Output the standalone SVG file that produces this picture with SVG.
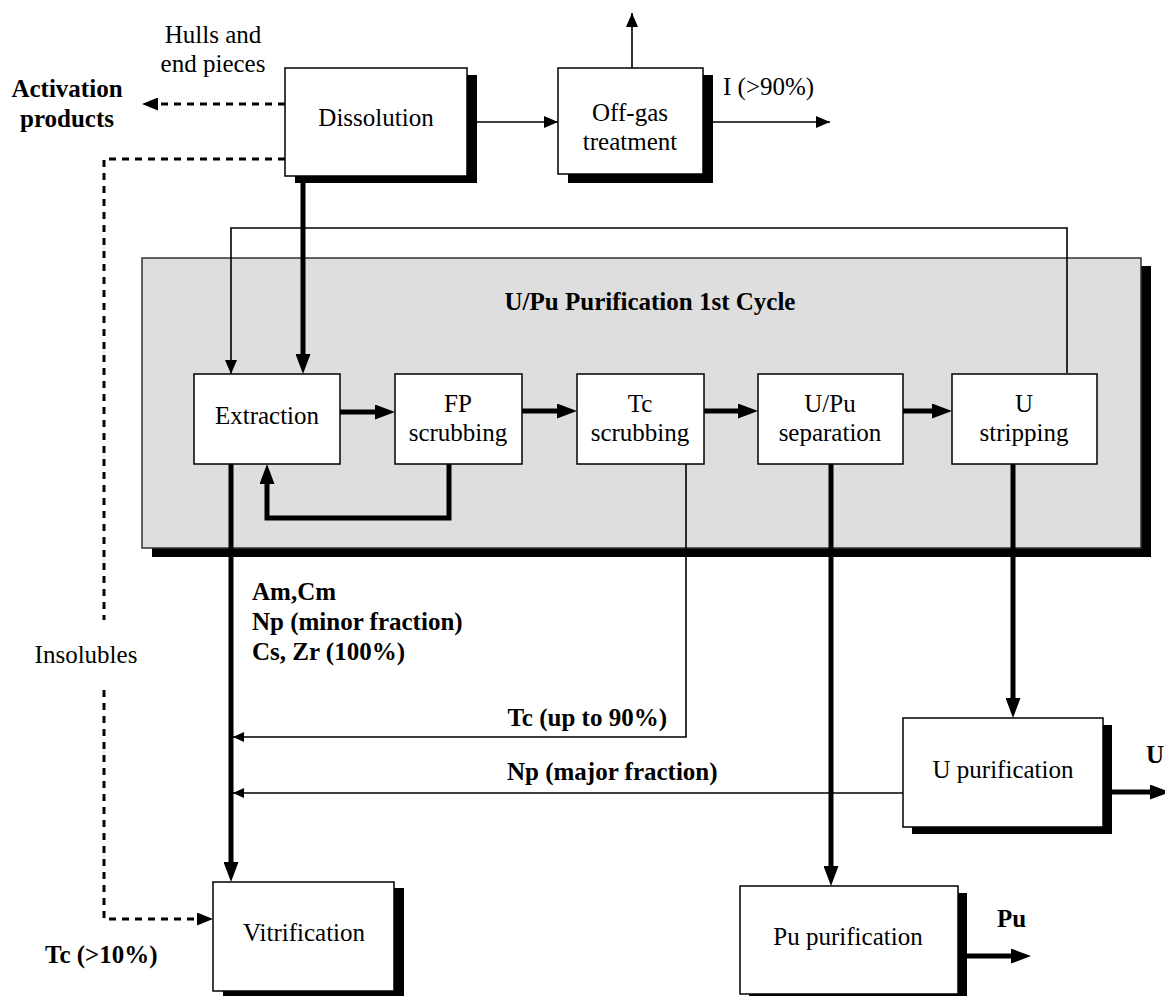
<svg xmlns="http://www.w3.org/2000/svg" width="1165" height="996" viewBox="0 0 1165 996">
  <style>
    text { font-family: "Liberation Serif", "Times New Roman", serif; font-size: 25px; fill: #000; }
    .b { font-weight: bold; }
    .box { fill: #fff; stroke: #000; stroke-width: 1.5; }
    .shadow { fill: #000; stroke: none; }
    .thin { fill: none; stroke: #000; stroke-width: 1.6; }
    .thick { fill: none; stroke: #000; stroke-width: 5; }
    .dash { fill: none; stroke: #000; stroke-width: 3; stroke-dasharray: 7 6; }
  </style>
  <defs>
    <!-- thin flow arrowhead, tip at the path end -->
    <marker id="aThin" markerUnits="userSpaceOnUse" viewBox="0 0 14 12" refX="14" refY="6" markerWidth="14" markerHeight="12" orient="auto">
      <path d="M0,0 L14,6 L0,12 z" fill="#000"/>
    </marker>
    <!-- small arrowhead for side streams joining the waste line -->
    <marker id="aSmall" markerUnits="userSpaceOnUse" viewBox="0 0 11 10" refX="11" refY="5" markerWidth="11" markerHeight="10" orient="auto">
      <path d="M0,0 L11,5 L0,10 z" fill="#000"/>
    </marker>
    <!-- thick main-stream arrowhead, tip 10px beyond the path end -->
    <marker id="aThick" markerUnits="userSpaceOnUse" viewBox="0 0 20 15" refX="10" refY="7.5" markerWidth="20" markerHeight="15" orient="auto">
      <path d="M0,0 L20,7.5 L0,15 z" fill="#000"/>
    </marker>
    <!-- arrowhead for dashed solid-waste streams -->
    <marker id="aDash" markerUnits="userSpaceOnUse" viewBox="0 0 16 13" refX="16" refY="6.5" markerWidth="16" markerHeight="13" orient="auto">
      <path d="M0,0 L16,6.5 L0,13 z" fill="#000"/>
    </marker>
  </defs>

  <rect width="1165" height="996" fill="#fff"/>

  <!-- first purification cycle enclosure -->
  <g id="cycle1">
    <rect class="shadow" x="152" y="266" width="999" height="291"/>
    <rect x="142" y="258" width="999" height="290" fill="#dedede" stroke="#333" stroke-width="1.5"/>
    <text class="b" x="650" y="310" text-anchor="middle">U/Pu Purification 1st Cycle</text>
  </g>

  <!-- connectors -->
  <g id="connectors">
    <!-- head end -->
    <line class="thin" x1="477" y1="122" x2="558" y2="122" marker-end="url(#aThin)"/>
    <line class="thin" x1="632" y1="68" x2="632" y2="13" marker-end="url(#aThin)"/>
    <line class="thin" x1="713" y1="122" x2="830" y2="122" marker-end="url(#aThin)"/>
    <line class="dash" x1="285" y1="104" x2="142" y2="104" marker-end="url(#aDash)"/>
    <path class="dash" d="M285,159 H104 V620"/>
    <path class="dash" d="M104,690 V919 H213" marker-end="url(#aDash)"/>
    <line class="thick" x1="303" y1="176" x2="303" y2="364" marker-end="url(#aThick)"/>

    <!-- solvent recycle from U stripping back to extraction -->
    <path class="thin" d="M1067,373 V228 H231 V374" marker-end="url(#aThin)"/>

    <!-- main stream through the cycle -->
    <line class="thick" x1="340" y1="412" x2="385" y2="412" marker-end="url(#aThick)"/>
    <line class="thick" x1="522" y1="411" x2="567" y2="411" marker-end="url(#aThick)"/>
    <line class="thick" x1="704" y1="411" x2="748" y2="411" marker-end="url(#aThick)"/>
    <line class="thick" x1="903" y1="411" x2="942" y2="411" marker-end="url(#aThick)"/>
    <path class="thick" d="M449,464 V518 H267 V474" marker-end="url(#aThick)"/>

    <!-- outlets -->
    <line class="thick" x1="231" y1="464" x2="231" y2="872" marker-end="url(#aThick)"/>
    <path class="thin" d="M686,464 V737 H233" marker-end="url(#aSmall)"/>
    <line class="thin" x1="903" y1="793" x2="233" y2="793" marker-end="url(#aSmall)"/>
    <line class="thick" x1="831" y1="464" x2="831" y2="876" marker-end="url(#aThick)"/>
    <line class="thick" x1="1013" y1="464" x2="1013" y2="708" marker-end="url(#aThick)"/>
    <line class="thick" x1="1112" y1="792" x2="1160" y2="792" marker-end="url(#aThick)"/>
    <line class="thick" x1="967" y1="956" x2="1021" y2="956" marker-end="url(#aThick)"/>
  </g>

  <!-- stream labels -->
  <g id="labels">
    <text x="213" y="43" text-anchor="middle">Hulls and</text>
    <text x="213" y="72" text-anchor="middle">end pieces</text>
    <text class="b" x="67" y="97" text-anchor="middle">Activation</text>
    <text class="b" x="67" y="127" text-anchor="middle">products</text>
    <text x="723" y="95">I (&gt;90%)</text>
    <text x="86" y="663" text-anchor="middle">Insolubles</text>
    <text class="b" x="252" y="600">Am,Cm</text>
    <text class="b" x="252" y="630">Np (minor fraction)</text>
    <text class="b" x="252" y="660">Cs, Zr (100%)</text>
    <text class="b" x="667" y="726" text-anchor="end">Tc (up to 90%)</text>
    <text class="b" x="507" y="780">Np (major fraction)</text>
    <text class="b" x="1146" y="763">U</text>
    <text class="b" x="997" y="927">Pu</text>
    <text class="b" x="45" y="963">Tc (&gt;10%)</text>
  </g>

  <g id="dissolution">
    <rect class="shadow" x="295" y="75" width="182" height="108"/>
    <rect class="box" x="285" y="68" width="182" height="108"/>
    <text x="376" y="126" text-anchor="middle">Dissolution</text>
  </g>

  <g id="offgas">
    <rect class="shadow" x="568" y="75" width="145" height="108"/>
    <rect class="box" x="558" y="68" width="145" height="106"/>
    <text x="630" y="121" text-anchor="middle">Off-gas</text>
    <text x="630" y="150" text-anchor="middle">treatment</text>
  </g>

  <g id="extraction">
    <rect class="box" x="194" y="374" width="146" height="90"/>
    <text x="267" y="424" text-anchor="middle">Extraction</text>
  </g>

  <g id="fp-scrubbing">
    <rect class="box" x="395" y="374" width="127" height="90"/>
    <text x="458" y="412" text-anchor="middle">FP</text>
    <text x="458" y="441" text-anchor="middle">scrubbing</text>
  </g>

  <g id="tc-scrubbing">
    <rect class="box" x="577" y="374" width="127" height="90"/>
    <text x="640" y="412" text-anchor="middle">Tc</text>
    <text x="640" y="441" text-anchor="middle">scrubbing</text>
  </g>

  <g id="upu-separation">
    <rect class="box" x="758" y="374" width="145" height="90"/>
    <text x="830" y="412" text-anchor="middle">U/Pu</text>
    <text x="830" y="441" text-anchor="middle">separation</text>
  </g>

  <g id="u-stripping">
    <rect class="box" x="952" y="374" width="145" height="90"/>
    <text x="1024" y="412" text-anchor="middle">U</text>
    <text x="1024" y="441" text-anchor="middle">stripping</text>
  </g>

  <g id="u-purification">
    <rect class="shadow" x="912" y="725" width="200" height="109"/>
    <rect class="box" x="903" y="718" width="200" height="109"/>
    <text x="1003" y="778" text-anchor="middle">U purification</text>
  </g>

  <g id="vitrification">
    <rect class="shadow" x="223" y="888" width="181" height="109"/>
    <rect class="box" x="213" y="882" width="181" height="109"/>
    <text x="304" y="941" text-anchor="middle">Vitrification</text>
  </g>

  <g id="pu-purification">
    <rect class="shadow" x="749" y="893" width="218" height="109"/>
    <rect class="box" x="740" y="886" width="218" height="108"/>
    <text x="848" y="945" text-anchor="middle">Pu purification</text>
  </g>
</svg>
